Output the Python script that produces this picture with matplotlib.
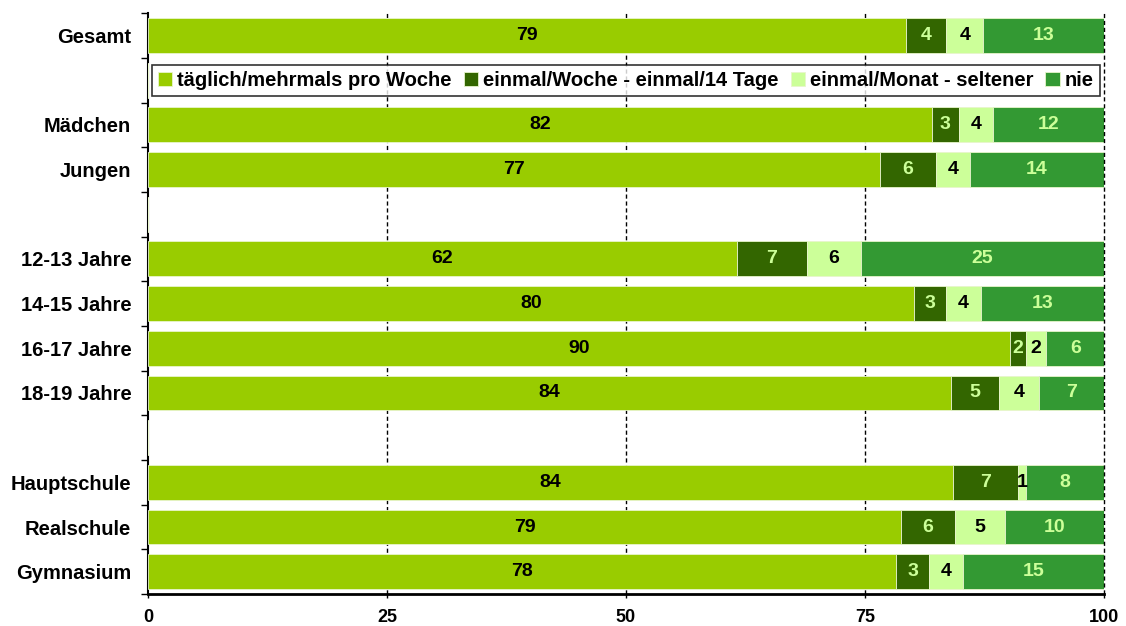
import numpy as np
import matplotlib
matplotlib.use('Agg')
import matplotlib.pyplot as plt

plt.rcParams['font.family'] = ['Liberation Sans', 'DejaVu Sans']
plt.rcParams['font.weight'] = 'bold'

# Data (percent), blank entries are spacer rows
categories = ['Gesamt', '', 'Mädchen', 'Jungen', '', '12-13 Jahre', '14-15 Jahre',
              '16-17 Jahre', '18-19 Jahre', '', 'Hauptschule', 'Realschule', 'Gymnasium']
daily = [79.3, None, 82.0, 76.6, None, 61.6, 80.1, 90.2, 84.0, None, 84.2, 78.8, 78.3]
weekly = [4.2, None, 2.8, 5.8, None, 7.3, 3.4, 1.6, 5.0, None, 6.8, 5.6, 3.4]
monthly = [3.9, None, 3.6, 3.6, None, 5.7, 3.6, 2.1, 4.2, None, 0.8, 5.3, 3.6]
never = [12.6, None, 11.6, 14.0, None, 25.4, 12.9, 6.2, 6.8, None, 8.2, 10.3, 14.7]

series_names = ['täglich/mehrmals pro Woche', 'einmal/Woche - einmal/14 Tage',
                'einmal/Monat - seltener', 'nie']
colors = ['#99CC00', '#336600', '#CCFF99', '#339933']
text_colors = ['black', '#CCFF99', 'black', '#CCFF99']
x_ticks = [0, 25, 50, 75, 100]


def main():
    fig = plt.figure(figsize=(11.26, 6.26), dpi=100)
    ax = fig.add_axes([0.1314, 0.051, 0.849, 0.928])

    n = len(categories)
    y = np.arange(n)
    series = [daily, weekly, monthly, never]
    left = np.zeros(n)
    handles = []
    for vals, col, tcol, name in zip(series, colors, text_colors, series_names):
        v = np.array([np.nan if s is None else s for s in vals])
        w = np.nan_to_num(v)
        h = ax.barh(y, w, left=left, height=0.78, color=col, edgecolor='#e8f5cc',
                    linewidth=0.6, label=name, zorder=3)
        handles.append(h)
        for i in range(n):
            if w[i] > 0:
                ax.text(left[i] + w[i] / 2, y[i], f'{w[i]:.0f}', ha='center', va='center',
                        color=tcol, fontsize=14, fontweight='bold', zorder=4)
        left = left + w

    ax.set_xlim(0, 100)
    ax.set_ylim(n - 0.5, -0.5)
    ax.set_xticks(x_ticks)
    ax.set_xticklabels([str(t) for t in x_ticks], fontsize=13, fontweight='bold')
    ax.tick_params(axis='x', length=3, width=1, pad=8)

    ax.set_yticks(y)
    ax.set_yticklabels(categories, fontsize=14.5, fontweight='bold')
    ax.tick_params(axis='y', which='major', length=0, pad=12)
    ax.set_yticks(np.arange(n + 1) - 0.5, minor=True)
    ax.tick_params(axis='y', which='minor', length=5, width=1)

    for t in x_ticks[1:]:
        ax.axvline(t, color='black', linestyle=(0, (3, 2)), linewidth=1,
                   zorder=5 if t == 100 else 2, clip_on=False)

    for s in ['top', 'right']:
        ax.spines[s].set_visible(False)
    ax.spines['left'].set_linewidth(1.5)
    ax.spines['bottom'].set_linewidth(2)

    leg = ax.legend(handles=handles, loc='center', bbox_to_anchor=(0.5, 1 - 1.5 / n),
                    ncol=4, frameon=True, fancybox=False, edgecolor='black',
                    handlelength=0.7, handleheight=0.7, handletextpad=0.25,
                    columnspacing=0.6, borderpad=0.3, prop={'weight': 'bold', 'size': 14.5})
    leg.get_frame().set_linewidth(1.2)
    leg.set_zorder(6)

    fig.savefig('out.png', dpi=100)


if __name__ == '__main__':
    main()
